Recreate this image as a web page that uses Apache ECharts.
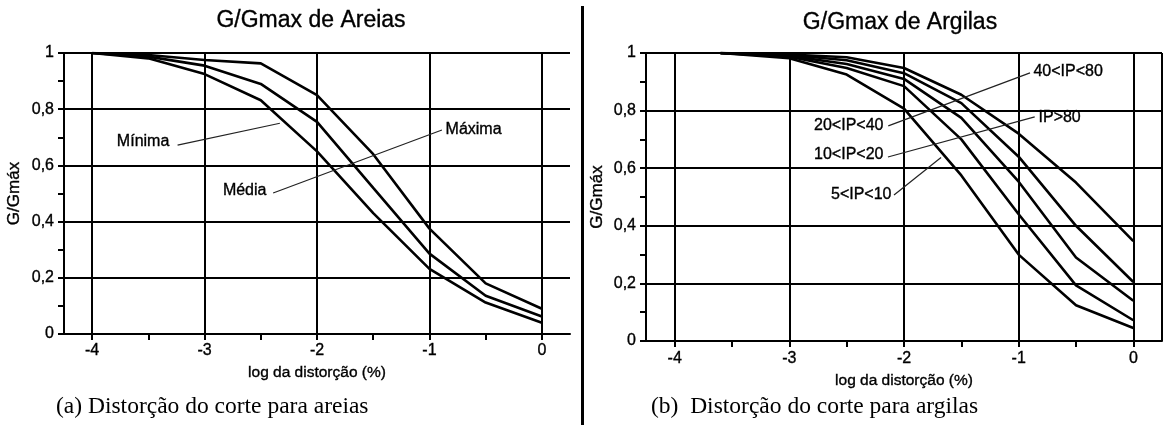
<!DOCTYPE html>
<html>
<head>
<meta charset="utf-8">
<script src="https://cdn.jsdelivr.net/npm/echarts@6/dist/echarts.min.js"></script>
<style>
  html, body { margin: 0; padding: 0; background: #fff; }
  #chart { width: 1165px; height: 425px; }
</style>
</head>
<body>
<div id="chart"></div>
<script>
// ---- data ----
var xTicks = [-4, -3, -2, -1, 0];
var xHalfTicks = [-4, -3.5, -3, -2.5, -2, -1.5, -1, -0.5, 0];

// (a) areias
var xSand = [-4, -3.5, -3, -2.5, -2, -1.5, -1, -0.5, 0];
var sandMax = [1, 0.993, 0.975, 0.963, 0.85, 0.64, 0.375, 0.18, 0.09];
var sandMed = [1, 0.987, 0.955, 0.89, 0.755, 0.52, 0.286, 0.136, 0.062];
var sandMin = [1, 0.981, 0.925, 0.832, 0.65, 0.43, 0.232, 0.112, 0.04];

// (b) argilas
var xClay = [-3.6, -3, -2.5, -2, -1.5, -1, -0.5, 0];
var clayIP80 = [1, 0.995, 0.985, 0.948, 0.855, 0.72, 0.55, 0.347];
var clayIP40_80 = [1, 0.993, 0.975, 0.93, 0.826, 0.64, 0.40, 0.205];
var clayIP20_40 = [1, 0.99, 0.962, 0.91, 0.775, 0.553, 0.29, 0.14];
var clayIP10_20 = [1, 0.987, 0.948, 0.885, 0.70, 0.44, 0.193, 0.072];
var clayIP5_10 = [1, 0.982, 0.925, 0.807, 0.575, 0.30, 0.124, 0.045];

// annotations: [text, x, y, side]
var sandLabels = [
  ['Mínima', -3.30, 0.683, 'left'],
  ['Média', -2.436, 0.512, 'left'],
  ['Máxima', -0.87, 0.726, 'right']
];
var sandLeaders = [
  [-3.24, 0.672, -2.33, 0.75],
  [-2.39, 0.502, -0.889, 0.726]
];
var clayLabels = [
  ['40<IP<80', -0.884, 0.935, 'right'],
  ['IP>80', -0.84, 0.777, 'right'],
  ['20<IP<40', -2.166, 0.747, 'left'],
  ['10<IP<20', -2.166, 0.646, 'left'],
  ['5<IP<10', -2.096, 0.507, 'left']
];
var clayLeaders = [
  [-2.137, 0.747, -0.901, 0.931],
  [-2.14, 0.639, -0.86, 0.778],
  [-2.087, 0.507, -1.677, 0.637]
];

var sansFont = "'Liberation Sans', Arial, sans-serif";
var serifFont = "'Liberation Serif', 'Times New Roman', serif";
var ink = '#000';
// the scanned figure has heavy text, thicken it a little
var heavy = { textBorderColor: '#000', textBorderWidth: 0.35 };

function txt(size, extra) {
  var s = { fontFamily: sansFont, fontSize: size, color: ink,
            textBorderColor: heavy.textBorderColor, textBorderWidth: heavy.textBorderWidth };
  for (var k in extra) s[k] = extra[k];
  return s;
}

function pairs(xs, ys) {
  return xs.map(function (x, k) { return [x, ys[k]]; });
}

function xAxisFor(gi, nameGap, labelMargin) {
  return {
    gridIndex: gi, type: 'value', min: -4.25, max: 0.25,
    name: 'log da distorção (%)', nameLocation: 'middle', nameGap: nameGap,
    nameTextStyle: txt(15.5),
    axisLine: { show: true, onZero: false, lineStyle: { color: '#000', width: 2 } },
    axisTick: { show: true, length: 6, customValues: xHalfTicks, lineStyle: { color: '#000', width: 2 } },
    axisLabel: txt(16, { customValues: xTicks, margin: labelMargin }),
    splitLine: { show: false }
  };
}

function yAxisFor(gi, nameGap) {
  return {
    gridIndex: gi, type: 'value', min: 0, max: 1, interval: 0.2,
    name: 'G/Gmáx', nameLocation: 'middle', nameGap: nameGap,
    nameTextStyle: txt(17),
    axisLine: { show: true, onZero: false, lineStyle: { color: '#000', width: 2 } },
    axisTick: { show: true, length: 6, lineStyle: { color: '#000', width: 2 } },
    minorTick: { show: true, splitNumber: 2, length: 6, lineStyle: { color: '#000', width: 2 } },
    axisLabel: txt(16, {
      margin: 10,
      formatter: function (v) { return String(+v.toFixed(1)).replace('.', ','); }
    }),
    splitLine: { show: true, lineStyle: { color: '#000', width: 2 } }
  };
}

function curve(name, gi, xs, ys, gridX) {
  var s = {
    name: name, type: 'line', xAxisIndex: gi, yAxisIndex: gi,
    data: pairs(xs, ys), symbol: 'none', smooth: false,
    lineStyle: { color: '#000', width: 2.6 }, z: 3
  };
  if (gridX) {
    s.markLine = {
      silent: true, symbol: ['none', 'none'], label: { show: false },
      lineStyle: { color: '#000', width: 2, type: 'solid' },
      data: gridX.map(function (x) { return { xAxis: x }; }),
      z: 2
    };
  }
  return s;
}

function notes(gi, labels, leaders, fontSize) {
  return {
    type: 'scatter', xAxisIndex: gi, yAxisIndex: gi, symbolSize: 1,
    itemStyle: { color: 'rgba(0,0,0,0)', opacity: 1 }, silent: true, z: 5,
    data: labels.map(function (l) {
      return {
        name: l[0], value: [l[1], l[2]],
        label: txt(fontSize, { show: true, position: l[3], distance: 1, formatter: '{b}', opacity: 1 })
      };
    }),
    markLine: {
      silent: true, symbol: ['none', 'none'], label: { show: false },
      lineStyle: { color: '#222', width: 1.2, type: 'solid', opacity: 1 },
      data: leaders.map(function (d) {
        return [{ coord: [d[0], d[1]] }, { coord: [d[2], d[3]] }];
      })
    }
  };
}

var chart = echarts.init(document.getElementById('chart'));
chart.setOption({
  animation: false,
  backgroundColor: '#fff',
  title: [
    { text: 'G/Gmax de Areias', left: 311, top: 9, textAlign: 'center', padding: 0,
      textStyle: txt(23, { fontWeight: 'normal' }) },
    { text: 'G/Gmax de Argilas', left: 900, top: 11, textAlign: 'center', padding: 0,
      textStyle: txt(23, { fontWeight: 'normal' }) },
    { text: '(a) Distorção do corte para areias', left: 56, top: 395, padding: 0,
      textStyle: { fontFamily: serifFont, fontSize: 23.5, fontWeight: 'normal', color: '#000' } },
    { text: '(b)  Distorção do corte para argilas', left: 651, top: 395, padding: 0,
      textStyle: { fontFamily: serifFont, fontSize: 23.5, fontWeight: 'normal', color: '#000' } }
  ],
  graphic: [
    { type: 'line', shape: { x1: 582.5, y1: 6, x2: 582.5, y2: 425 },
      style: { stroke: '#000', lineWidth: 3 } }
  ],
  grid: [
    { left: 64, top: 53, width: 506, height: 281 },
    { left: 646, top: 53, width: 516, height: 288 }
  ],
  xAxis: [xAxisFor(0, 20, 9), xAxisFor(1, 28, 10)],
  yAxis: [yAxisFor(0, 41), yAxisFor(1, 40)],
  series: [
    curve('Máxima', 0, xSand, sandMax, xTicks),
    curve('Média', 0, xSand, sandMed),
    curve('Mínima', 0, xSand, sandMin),
    notes(0, sandLabels, sandLeaders, 16),
    curve('IP>80', 1, xClay, clayIP80, xTicks.concat([0.25])),
    curve('40<IP<80', 1, xClay, clayIP40_80),
    curve('20<IP<40', 1, xClay, clayIP20_40),
    curve('10<IP<20', 1, xClay, clayIP10_20),
    curve('5<IP<10', 1, xClay, clayIP5_10),
    notes(1, clayLabels, clayLeaders, 16)
  ]
});
</script>
</body>
</html>
